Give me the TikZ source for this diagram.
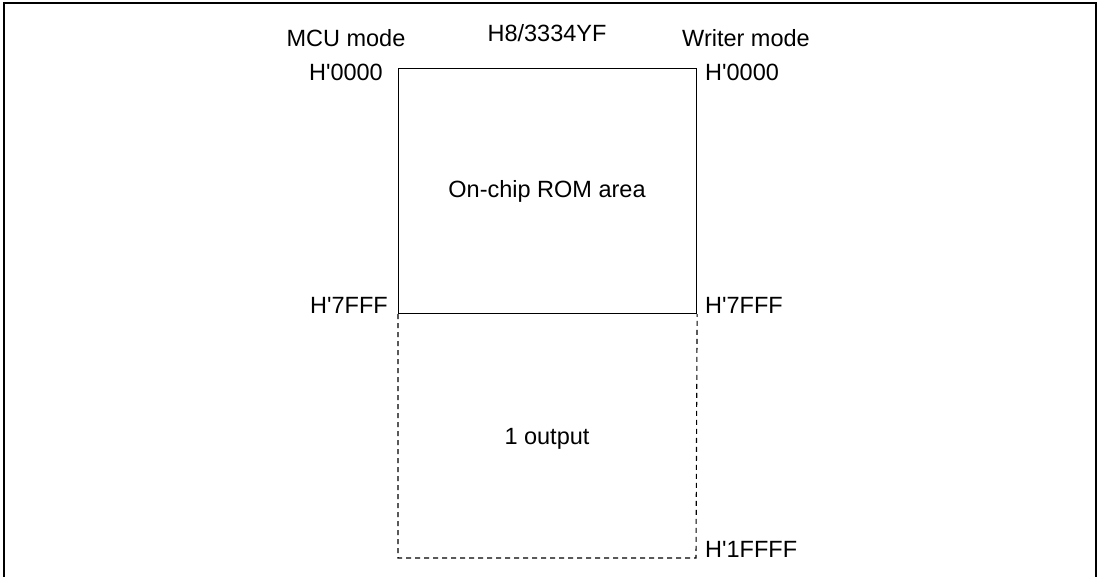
\documentclass[tikz,border=0pt]{standalone}
\usepackage{fontspec}
\setmainfont{Liberation Sans}[Ligatures=TeXOff]
\begin{document}
\begin{tikzpicture}[x=1pt,y=-1pt,
  lbl/.style={inner sep=0pt,font=\fontsize{23.5}{28}\selectfont},
  frameline/.style={line width=1.5pt},
  boxline/.style={line width=1.1pt},
  dashline/.style={line width=1.1pt,dash pattern=on 5pt off 4pt}]
\useasboundingbox (0,0) rectangle (1100,577);
% outer frame
\draw[frameline] (4,580) -- (4,3) -- (1096,3) -- (1096,580);
% headings
\node[lbl,anchor=base] (mcu) at (346,47) {MCU mode};
\node[lbl,anchor=base] (chip) at (547,42) {H8/3334YF};
\node[lbl,anchor=base] (writer) at (746,47) {Writer mode};
% ROM area box
\node[boxline,draw,minimum width=298pt,minimum height=245pt,inner sep=0pt,anchor=north west] (rom) at (398,68) {};
\node[lbl,anchor=base] (romtxt) at (547,198) {On-chip ROM area};
% dashed output area
\coordinate (bl) at (398,558);
\coordinate (br) at (696,558);
\draw[dashline] (rom.south west) -- (bl) -- (br) -- (rom.south east);
\node[lbl,anchor=base] (outtxt) at (547,444) {1 output};
% address labels
\node[lbl,anchor=base east] (l0) at (383,81) {H'0000};
\node[lbl,anchor=base west] (r0) at (705,81) {H'0000};
\node[lbl,anchor=base east] (l7) at (388,313) {H'7FFF};
\node[lbl,anchor=base west] (r7) at (705,313) {H'7FFF};
\node[lbl,anchor=base west] (r1) at (705,557) {H'1FFFF};
\end{tikzpicture}
\end{document}
